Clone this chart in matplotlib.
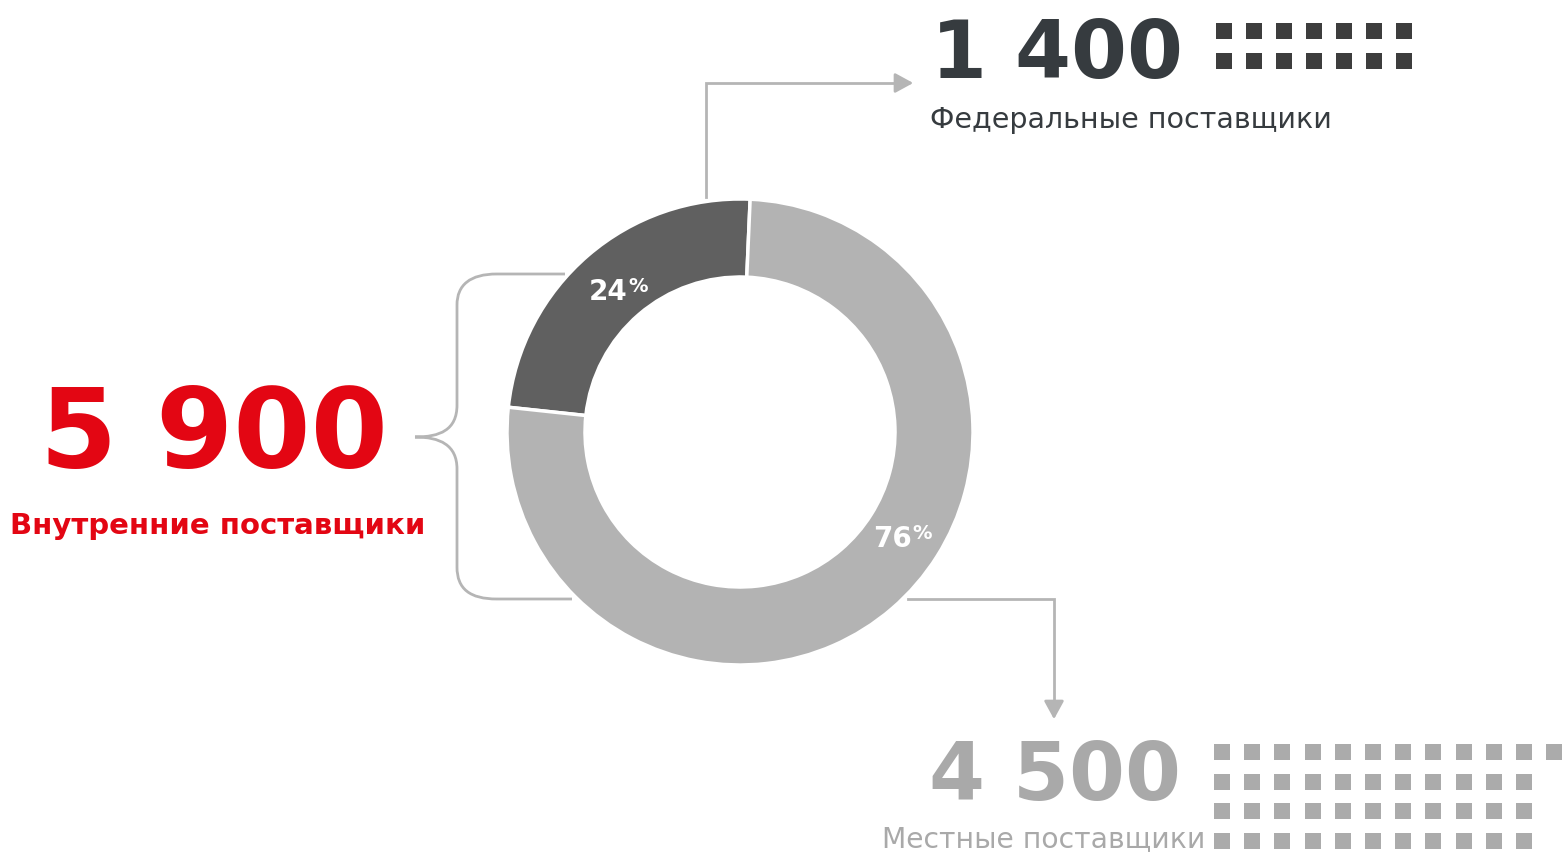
import matplotlib.pyplot as plt
from matplotlib.path import Path
from matplotlib.patches import PathPatch

# data
shares = [24, 76]
share_labels = ["24", "76"]
wedge_colors = ["#606060", "#b3b3b3"]
total_value = "5 900"
total_label = "Внутренние поставщики"
federal_value = "1 400"
federal_label = "Федеральные поставщики"
local_value = "4 500"
local_label = "Местные поставщики"
federal_squares = [7, 7]          # squares per row
local_squares = [12, 11, 11, 11]

W, H = 1562, 852
RED = "#e30613"
DARK = "#363b3f"
GREY_TXT = "#a9a9a9"
LINE = "#b5b5b5"


def py(y):
    # pixel row (from the top) -> axes y (upwards)
    return H - y


fig = plt.figure(figsize=(W / 100, H / 100), dpi=100)
ax = fig.add_axes([0, 0, 1, 1])

# donut
cx, cy, r = 740, py(432), 233
ax.pie(shares, colors=wedge_colors, startangle=87.5, counterclock=True,
       center=(cx, cy), radius=r,
       wedgeprops=dict(width=78, edgecolor="white", linewidth=2.5))
ax.set_xlim(0, W)
ax.set_ylim(0, H)
ax.set_aspect("equal")
ax.axis("off")

# percentage labels
for (x, y), lab in zip([(589, 300), (873, 547)], share_labels):
    t = ax.text(x, py(y), lab, color="white", fontsize=20, fontweight="bold",
                ha="left", va="baseline")
    fig.canvas.draw()
    bb = t.get_window_extent()
    ax.text(bb.x1 + 1, py(y) + 8, "%", color="white", fontsize=14,
            fontweight="bold", ha="left", va="baseline")

# big numbers and captions
ax.text(40, py(467), total_value, color=RED, fontsize=80, fontweight="bold",
        ha="left", va="baseline")
ax.text(10, py(534), total_label, color=RED, fontsize=21, fontweight="bold",
        ha="left", va="baseline")
ax.text(931, py(78), federal_value, color=DARK, fontsize=58, fontweight="bold",
        ha="left", va="baseline")
ax.text(930, py(128), federal_label, color=DARK, fontsize=20.5,
        ha="left", va="baseline")
ax.text(929, py(800), local_value, color=GREY_TXT, fontsize=58, fontweight="bold",
        ha="left", va="baseline")
ax.text(1205, py(847), local_label, color=GREY_TXT, fontsize=20.3,
        ha="right", va="baseline")

# square grids
def squares(x0, y0, rows, color, step=30.2, size=16):
    for i, n in enumerate(rows):
        for j in range(n):
            x = x0 + j * step
            y = y0 + i * 29.5
            ax.add_patch(plt.Rectangle((x, py(y + size)), size, size,
                                       color=color, lw=0))

squares(1216, 23, federal_squares, "#3d3d3d", step=30)
squares(1214, 744, local_squares, "#ababab")

# connectors
ax.plot([706, 706, 902], [py(197), py(83), py(83)], color=LINE, lw=2,
        solid_joinstyle="miter")
ax.annotate("", xy=(916, py(83)), xytext=(898, py(83)),
            arrowprops=dict(arrowstyle="-|>,head_length=1.1,head_width=0.6",
                            color=LINE, lw=2))
ax.plot([908, 1054, 1054], [py(599), py(599), py(709)], color=LINE, lw=2,
        solid_joinstyle="miter")
ax.annotate("", xy=(1054, py(722)), xytext=(1054, py(704)),
            arrowprops=dict(arrowstyle="-|>,head_length=1.1,head_width=0.6",
                            color=LINE, lw=2))

# curly brace
pts = [(565, 274), (497, 274), (470, 274), (457, 285), (457, 305),
       (457, 405), (457, 430), (440, 437), (415, 437),
       (440, 437), (457, 445), (457, 469),
       (457, 567), (457, 589), (470, 599), (497, 599), (572, 599)]
codes = [Path.MOVETO, Path.LINETO, Path.CURVE4, Path.CURVE4, Path.CURVE4,
         Path.LINETO, Path.CURVE4, Path.CURVE4, Path.CURVE4,
         Path.CURVE4, Path.CURVE4, Path.CURVE4,
         Path.LINETO, Path.CURVE4, Path.CURVE4, Path.CURVE4, Path.LINETO]
brace = Path([(x, py(y)) for x, y in pts], codes)
ax.add_patch(PathPatch(brace, fill=False, edgecolor=LINE, lw=2))

fig.savefig("out.png", dpi=100)
